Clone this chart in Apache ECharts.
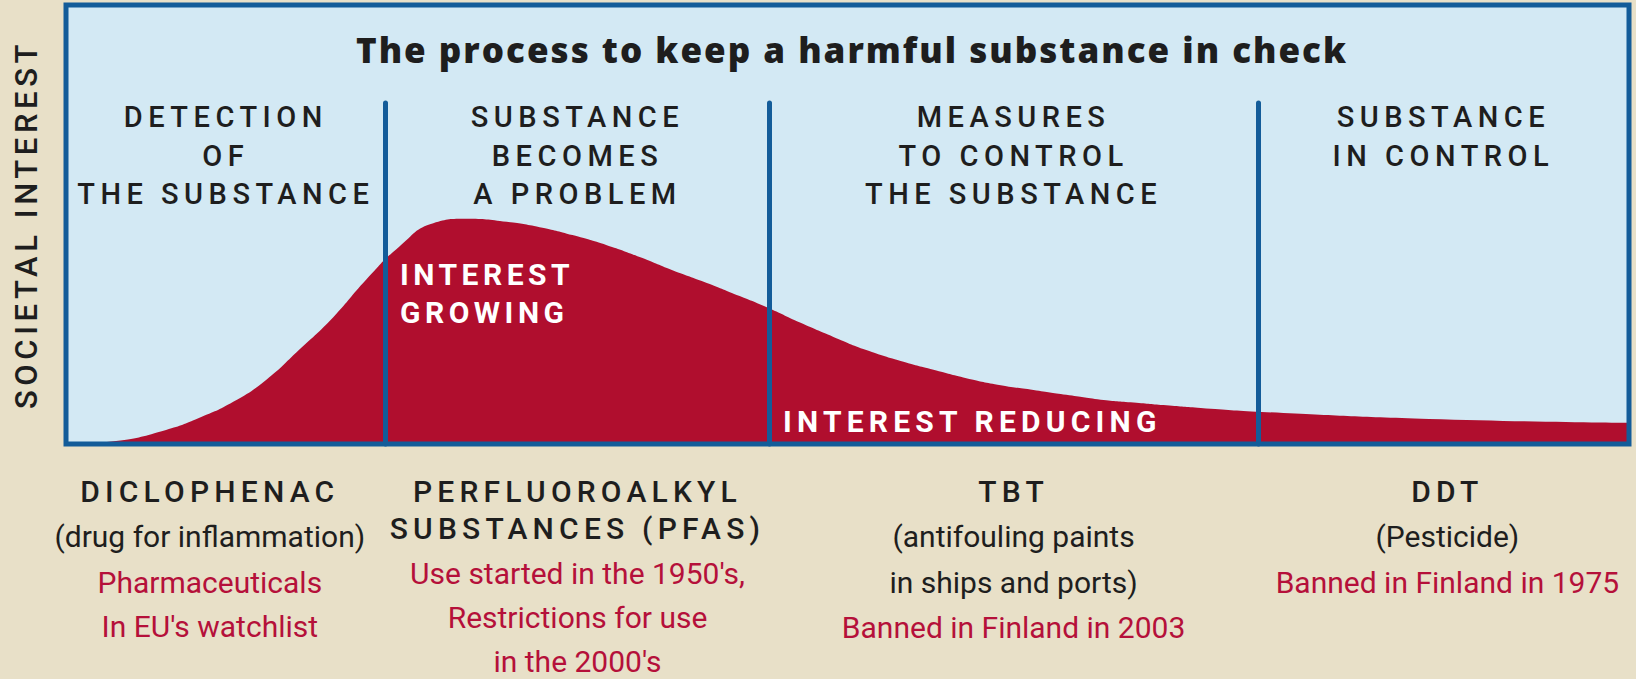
<!DOCTYPE html>
<html lang="en">
<head>
<meta charset="UTF-8">
<title>The process to keep a harmful substance in check</title>
<style>
    body { margin: 0; background: #e8e0c8; }
    #chart { width: 1636px; height: 679px; }
    /* letter spacing for the spaced capital labels (svg renderer) */
    text[style*="spA"] { letter-spacing: 5.5px; }
    text[style*="spB"] { letter-spacing: 4.6px; }
    text[style*="spC"] { letter-spacing: 4.5px; }
    text[style*="spD"] { letter-spacing: 5.2px; }
    text[style*="spT"] { letter-spacing: 2px; }
</style>
<script src="https://cdn.jsdelivr.net/npm/echarts@6/dist/echarts.min.js"></script>
</head>
<body>
<div id="chart"></div>
<script>
    // stages along the time axis (0..100)
    const stageBounds = [0, 20.45, 45.0, 76.25, 100];
    const stageNames = [
        ['DETECTION', 'OF', 'THE SUBSTANCE'],
        ['SUBSTANCE', 'BECOMES', 'A PROBLEM'],
        ['MEASURES', 'TO CONTROL', 'THE SUBSTANCE'],
        ['SUBSTANCE', 'IN CONTROL']
    ];

    // societal interest curve
    const curveX = [0, 3.2, 6.4, 8.5, 10.7, 12.8, 14.9, 17.1, 19.2, 21.3, 23.5, 25.6, 28.2, 30.3, 32.4, 34.6, 36.7, 38.8, 41.0, 43.1, 44.8, 47.0, 49.1, 51.2, 53.4, 55.5, 57.6, 59.8, 61.9, 64.0, 66.2, 68.3, 70.4, 72.6, 76.5, 87.2, 100];
    const curveY = [0, 0.7, 3.2, 5.9, 9.6, 14.6, 21.4, 28.9, 37.4, 44.9, 50.3, 51.3, 50.6, 49.4, 47.6, 45.3, 42.6, 39.6, 36.7, 33.7, 31.2, 27.6, 24.4, 21.4, 18.9, 16.9, 15.0, 13.4, 12.3, 11.2, 10.1, 9.45, 8.8, 8.2, 7.3, 5.7, 4.8];
    const dividerTop = 77.7;

    // example substances under each stage
    const substances = [['DICLOPHENAC'], ['PERFLUOROALKYL', 'SUBSTANCES (PFAS)'], ['TBT'], ['DDT']];
    const uses = [['(drug for inflammation)'], [], ['(antifouling paints', 'in ships and ports)'], ['(Pesticide)']];
    const notes = [
        ['Pharmaceuticals', "In EU's watchlist"],
        ["Use started in the 1950's,", 'Restrictions for use', "in the 2000's"],
        ['Banned in Finland in 2003'],
        ['Banned in Finland in 1975']
    ];

    const BLUE = '#135c99', RED = '#b00e2e', INK = '#1e1e1e', RED_TXT = '#b5103a';

    const chart = echarts.init(document.getElementById('chart'), null, { renderer: 'svg' });

    const gridPos = { left: 66, top: 5, right: 7, bottom: 235 };

    chart.setOption({
        backgroundColor: '#e8e0c8',
        animation: false,
        title: {
            text: 'The process to keep a harmful substance in check',
            left: 847, top: 24, textAlign: 'center',
            textStyle: { fontFamily: 'spT, Open Sans', fontWeight: 800, fontSize: 35, color: INK, lineHeight: 40 }
        },
        grid: [
            Object.assign({ show: true, backgroundColor: '#d3e9f4', borderWidth: 0 }, gridPos),
            Object.assign({ show: true, backgroundColor: 'transparent', borderColor: BLUE, borderWidth: 5, z: 10 }, gridPos)
        ],
        xAxis: [
            { type: 'value', min: 0, max: 100, show: false },
            { type: 'value', min: 0, max: 100, show: false, gridIndex: 1 }
        ],
        yAxis: [
            {
                type: 'value', min: 0, max: 100,
                axisLine: { show: false }, axisTick: { show: false }, axisLabel: { show: false }, splitLine: { show: false },
                name: 'SOCIETAL INTEREST', nameLocation: 'middle', nameRotate: 90, nameGap: 24,
                nameTextStyle: { fontFamily: 'spB, Roboto', fontWeight: 500, fontSize: 31, color: INK }
            },
            { type: 'value', min: 0, max: 100, show: false, gridIndex: 1 }
        ],
        series: [{
            type: 'line',
            data: curveX.map((x, i) => [x, curveY[i]]),
            smooth: 0.5,
            showSymbol: false,
            lineStyle: { width: 0 },
            areaStyle: { color: RED, opacity: 1 },
            markLine: {
                silent: true,
                symbol: 'none',
                label: { show: false },
                lineStyle: { color: BLUE, width: 5, type: 'solid', cap: 'round' },
                data: stageBounds.slice(1, -1).map(b => [{ coord: [b, 0] }, { coord: [b, dividerTop] }])
            }
        }]
    });

    // text blocks placed at the stage centres
    const px = v => chart.convertToPixel({ xAxisIndex: 0 }, v);
    const colShift = [-16, 0, 0, 4];
    const graphics = [];

    function addText(text, x, y, font, fill, align) {
        graphics.push({
            type: 'text', x: x, y: y, z: 20,
            style: {
                text: text, font: font, fill: fill, lineHeight: 26,
                align: align || 'center', verticalAlign: 'middle',
                textAlign: align || 'center', textVerticalAlign: 'middle'
            }
        });
    }

    stageNames.forEach((lines, i) => {
        const cx = px((stageBounds[i] + stageBounds[i + 1]) / 2);
        lines.forEach((t, j) => addText(t, cx, 117 + j * 38.5, '500 29px spA, Roboto', INK));
    });

    addText('INTEREST', 400, 274, 'bold 30px spC, Roboto', '#ffffff', 'left');
    addText('GROWING', 400, 312, 'bold 30px spC, Roboto', '#ffffff', 'left');
    addText('INTEREST REDUCING', 783, 421, 'bold 30px spD, Roboto', '#ffffff', 'left');

    substances.forEach((heads, i) => {
        const cx = px((stageBounds[i] + stageBounds[i + 1]) / 2) + colShift[i];
        let y = 491;
        let prev = null;
        const rows = heads.map(t => ['h', t])
            .concat(uses[i].map(t => ['d', t]))
            .concat(notes[i].map(t => ['r', t]));
        rows.forEach(([kind, t]) => {
            if (prev) y += (prev === 'h' && kind === 'h') ? 37 : (prev === 'r' && kind === 'r') ? 44 : 45.5;
            if (kind === 'h') addText(t, cx, y, '500 30px spD, Roboto', INK);
            else addText(t, cx, y, '30px Roboto', kind === 'd' ? INK : RED_TXT);
            prev = kind;
        });
    });

    chart.setOption({ graphic: graphics });
</script>
</body>
</html>
